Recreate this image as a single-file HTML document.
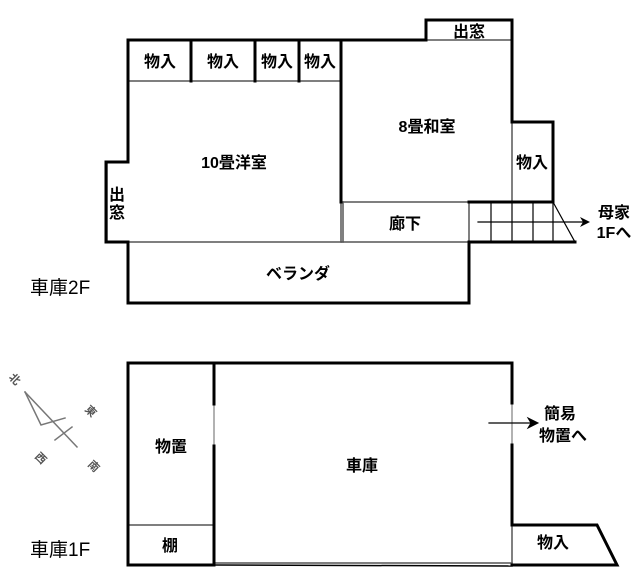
<!DOCTYPE html>
<html><head><meta charset="utf-8"><style>
html,body{margin:0;padding:0;background:#fff;}
svg{display:block;}
text{font-family:"Liberation Sans","Noto Sans CJK JP",sans-serif;fill:#000;}
</style></head><body>
<svg width="640" height="586" viewBox="0 0 640 586" xmlns="http://www.w3.org/2000/svg">
<g fill="none" stroke="#000" stroke-linecap="square">
<g stroke-width="1.5" stroke="#555">
<line x1="129" y1="81" x2="341" y2="81"/>
<line x1="342" y1="202" x2="512" y2="202"/>
<line x1="512" y1="122" x2="512" y2="202"/>
<line x1="426" y1="40" x2="512" y2="40"/>
<line x1="129" y1="242" x2="341" y2="242"/>
<line x1="343" y1="202" x2="343" y2="242"/>
<line x1="342" y1="242" x2="469" y2="242"/>
<line x1="469" y1="202" x2="469" y2="242"/>
<line x1="341" y1="202" x2="341" y2="242"/>
<line x1="107" y1="162" x2="107" y2="242"/>
<line x1="214" y1="404" x2="214" y2="446" stroke="#999"/>
<line x1="512" y1="403" x2="512" y2="445" stroke="#999"/>
</g>
<g stroke-width="1.2">
<line x1="491" y1="202" x2="491" y2="242"/>
<line x1="512" y1="202" x2="512" y2="242"/>
<line x1="533" y1="202" x2="533" y2="242"/>
<line x1="553" y1="202" x2="553" y2="242"/>
<line x1="553" y1="202" x2="575" y2="242"/>
<line x1="478" y1="222" x2="584" y2="222"/>
</g>
<polygon points="590,222 580,217 583,222 580,227" fill="#000" stroke="none"/>
<g stroke-width="3">
<polyline points="128,162 128,40 426,40 426,20 512,20 512,122 553,122 553,202 469,202"/>
<line x1="191" y1="40" x2="191" y2="81"/>
<line x1="255" y1="40" x2="255" y2="81"/>
<line x1="299" y1="40" x2="299" y2="81"/>
<polyline points="341,40 341,202"/>
<polyline points="128,162 106,162 106,242 128,242"/>
<polyline points="128,242 128,303 469,303 469,242 575,242"/>
</g>
<g stroke-width="1.5" stroke="#555">
<line x1="129" y1="525" x2="213" y2="525"/>
<line x1="512" y1="525" x2="512" y2="565"/>
<line x1="214" y1="563" x2="512" y2="563"/>
</g>
<g stroke-width="3">
<polyline points="128,363 512,363 512,403"/>
<polyline points="512,445 512,525 597,525 617,565 512,565"/>
<polyline points="128,363 128,565 214,565"/>
<line x1="214" y1="565" x2="512" y2="566" stroke-width="1.5"/>
<polyline points="214,363 214,404"/>
<polyline points="214,446 214,565"/>
</g>
<line x1="489" y1="423" x2="532" y2="423" stroke-width="1.2"/>
<polygon points="538,423 528,418 531,423 528,428" fill="#000"/>
<g stroke="#777" stroke-width="1.5">
<line x1="25" y1="392" x2="77" y2="447"/>
<polyline points="25,392 41,425 65,418"/>
<line x1="55" y1="440" x2="72" y2="427"/>
</g>
</g>
<g font-size="16" text-anchor="middle" font-weight="bold">
<text x="160" y="67">物入</text>
<text x="223" y="67">物入</text>
<text x="277" y="67">物入</text>
<text x="320" y="67">物入</text>
<text x="469" y="37">出窓</text>
<text x="234" y="168">10畳洋室</text>
<text x="427" y="132">8畳和室</text>
<text x="532" y="168">物入</text>
<text x="405" y="229">廊下</text>
<text x="298" y="279">ベランダ</text>
<text x="117" y="200">出</text>
<text x="117" y="218">窓</text>
<text x="614" y="218">母家</text>
<text x="614" y="238">1Fへ</text>
<text x="171" y="452">物置</text>
<text x="170" y="551">棚</text>
<text x="362" y="471">車庫</text>
<text x="553" y="548">物入</text>
<text x="560" y="419">簡易</text>
<text x="563" y="441">物置へ</text>
</g>
<text x="30" y="294" font-size="19">車庫2F</text>
<text x="30" y="556" font-size="19">車庫1F</text>
<g font-size="11" text-anchor="middle" font-weight="bold">
<text x="15" y="383" transform="rotate(45 15 379)" style="fill:#555">北</text>
<text x="91" y="415" transform="rotate(45 91 411)" style="fill:#555">東</text>
<text x="41" y="462" transform="rotate(45 41 458)" style="fill:#555">西</text>
<text x="94" y="470" transform="rotate(45 94 466)" style="fill:#555">南</text>
</g>
</svg>
</body></html>
